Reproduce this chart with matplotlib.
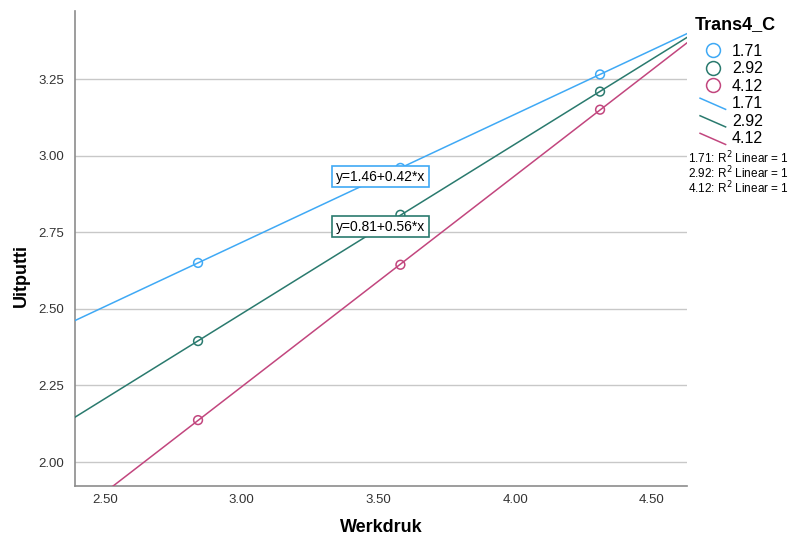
import matplotlib
matplotlib.use("Agg")
import matplotlib.pyplot as plt
from matplotlib.lines import Line2D
from matplotlib.legend_handler import HandlerLine2D
import numpy as np

plt.rcParams['font.family'] = ['Liberation Sans', 'DejaVu Sans']

# moderator groups (Trans4_C) and predicted values at mean-SD, mean, mean+SD of Werkdruk
groups = ['1.71', '2.92', '4.12']
werkdruk = [2.84, 3.58, 4.31]
uitputting = {
    '1.71': [2.650, 2.960, 3.265],
    '2.92': [2.395, 2.807, 3.209],
    '4.12': [2.137, 2.644, 3.150],
}
colors = {'1.71': '#3FA9F5', '2.92': '#2A7A6E', '4.12': '#C2467E'}
equations = {'1.71': 'y=1.46+0.42*x', '2.92': 'y=0.81+0.56*x'}
eq_pos = {'1.71': (3.507, 2.931), '2.92': (3.507, 2.768)}

xlim = (2.39, 4.628)
ylim = (1.922, 3.472)

fig = plt.figure(figsize=(8.01, 5.39), dpi=100)
ax = fig.add_axes([0.0936, 0.0983, 0.7641, 0.8813])

xs = np.array(xlim)
for g in groups:
    b, a = np.polyfit(werkdruk, uitputting[g], 1)
    ax.plot(xs, a + b * xs, color=colors[g], lw=1.1, zorder=3)
    ax.scatter(werkdruk, uitputting[g], s=40, facecolors='none',
               edgecolors=colors[g], linewidths=1.1, zorder=4)

for g, txt in equations.items():
    ax.text(eq_pos[g][0], eq_pos[g][1], txt, ha='center', va='center',
            fontsize=10, zorder=5,
            bbox=dict(boxstyle='square,pad=0.25', fc='white', ec=colors[g], lw=1.2))

ax.set_xlim(*xlim)
ax.set_ylim(*ylim)
ax.set_xticks([2.5, 3.0, 3.5, 4.0, 4.5])
ax.set_yticks([2.0, 2.25, 2.5, 2.75, 3.0, 3.25])
ax.xaxis.set_major_formatter(plt.FormatStrFormatter('%.2f'))
ax.yaxis.set_major_formatter(plt.FormatStrFormatter('%.2f'))
ax.tick_params(length=0, labelsize=9.5, colors='#333333')
ax.tick_params(axis='x', pad=6)
ax.tick_params(axis='y', pad=8)
ax.grid(axis='y', color='#C8C8C8', lw=1)
ax.set_axisbelow(True)
for s in ['top', 'right']:
    ax.spines[s].set_visible(False)
for s in ['left', 'bottom']:
    ax.spines[s].set_color('#8C8C8C')
    ax.spines[s].set_linewidth(1.2)

ax.set_xlabel('Werkdruk', fontsize=13, fontweight='bold', va='center')
ax.set_ylabel('Uitputti', fontsize=13, fontweight='bold', va='center')
ax.xaxis.set_label_coords(0.5, -0.088)
ax.yaxis.set_label_coords(-0.087, 0.444)


class DiagLine(HandlerLine2D):
    def create_artists(self, legend, orig_handle, xdescent, ydescent,
                       width, height, fontsize, trans):
        line = Line2D([0, width], [height * 0.9, -height * 0.1],
                      color=orig_handle.get_color(), lw=1.1, transform=trans)
        return [line]


handles = []
labels = []
for g in groups:
    handles.append(Line2D([], [], ls='none', marker='o', ms=10, mfc='none',
                          mec=colors[g], mew=1.1))
    labels.append(g)
line_handles = []
for g in groups:
    h = Line2D([], [], color=colors[g], lw=1.1)
    line_handles.append(h)
    handles.append(h)
    labels.append(g)

fig.text(0.867, 1 - 25 / 539, 'Trans4_C', fontsize=13, fontweight='bold', va='center')
leg = fig.legend(handles, labels, loc='upper left', bbox_to_anchor=(0.866, 0.931),
                 frameon=False, fontsize=11.5,
                 handlelength=1.6, handletextpad=0.4, labelspacing=0.16,
                 borderaxespad=0.0,
                 handler_map={h: DiagLine() for h in line_handles})

for i, g in enumerate(groups):
    fig.text(0.859, 1 - (158 + i * 15) / 539, g + ': R$^2$ Linear = 1',
             fontsize=8.5, va='center')

fig.savefig('out.png', dpi=100)
